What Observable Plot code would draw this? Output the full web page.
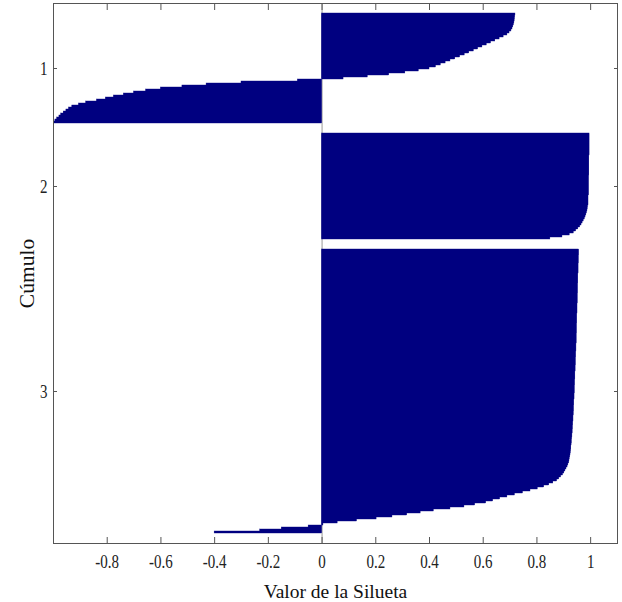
<!DOCTYPE html>
<html>
<head>
<meta charset="utf-8">
<script src="https://cdn.jsdelivr.net/npm/d3@7"></script>
<script src="https://cdn.jsdelivr.net/npm/@observablehq/plot@0.6"></script>
<style>
  html, body { margin: 0; padding: 0; background: #fff; }
  #chart { width: 622px; height: 602px; }
</style>
</head>
<body>
<div id="chart"></div>
<script>
// Silhouette values per cluster (sorted descending)
const clusterLabels = ["1", "2", "3"];

const cluster1 = [
  0.720, 0.719, 0.718, 0.717, 0.716, 0.714, 0.712, 0.709, 0.705, 0.698,
  0.690, 0.676, 0.661, 0.645, 0.629, 0.613, 0.597, 0.581, 0.565, 0.548,
  0.531, 0.514, 0.496, 0.478, 0.460, 0.442, 0.424, 0.400, 0.360, 0.310,
  0.250, 0.170, 0.080,
  -0.09, -0.30, -0.43, -0.52, -0.60, -0.655, -0.70, -0.738, -0.775, -0.805,
  -0.838, -0.878, -0.905, -0.930, -0.942, -0.952, -0.962, -0.971, -0.978, -0.986,
  -0.993, -0.999
];

const cluster2 = [
  0.996, 0.996, 0.996, 0.996, 0.996, 0.996, 0.996, 0.996, 0.996, 0.996, 0.996,
  0.995, 0.995, 0.995, 0.995, 0.995, 0.995, 0.995, 0.995, 0.995, 0.995,
  0.994, 0.994, 0.994, 0.994, 0.994, 0.994, 0.994, 0.994, 0.994, 0.994,
  0.992, 0.992, 0.992, 0.992, 0.992,
  0.990, 0.989, 0.988, 0.986, 0.984, 0.981, 0.978, 0.974, 0.970, 0.966,
  0.961, 0.954, 0.946, 0.937, 0.922, 0.895, 0.850
];

const cluster3 = [
  0.957, 0.957, 0.957, 0.956, 0.956, 0.956, 0.956, 0.955, 0.955, 0.955,
  0.955, 0.955, 0.954, 0.954, 0.954, 0.954, 0.954, 0.953, 0.953, 0.953, 0.953,
  0.953, 0.952, 0.952, 0.952, 0.952, 0.952, 0.951, 0.951, 0.951, 0.951,
  0.951, 0.950, 0.950, 0.950, 0.950, 0.950, 0.949, 0.949, 0.949, 0.949,
  0.949, 0.948, 0.948, 0.948, 0.948,
  0.948, 0.947, 0.947, 0.947, 0.947, 0.946, 0.946, 0.946, 0.945, 0.945,
  0.945, 0.945, 0.944, 0.944, 0.944, 0.943, 0.943, 0.943, 0.943, 0.942,
  0.942, 0.942, 0.941, 0.941, 0.941,
  0.941, 0.940, 0.940, 0.940, 0.939, 0.939, 0.939, 0.938, 0.938, 0.938,
  0.937, 0.937, 0.936, 0.936, 0.936, 0.935, 0.935, 0.934, 0.934, 0.933,
  0.933, 0.932, 0.932, 0.931, 0.930, 0.930, 0.929, 0.928, 0.928, 0.927,
  0.926, 0.925, 0.924,
  0.922, 0.921, 0.920,
  0.917, 0.914, 0.910, 0.906, 0.902, 0.897, 0.890, 0.883, 0.875, 0.861,
  0.846, 0.827, 0.803, 0.776, 0.748, 0.718, 0.690, 0.663, 0.637, 0.611,
  0.570, 0.530, 0.478, 0.416, 0.367, 0.317, 0.262, 0.203, 0.130, 0.058,
  0.005, -0.05, -0.15, -0.23, -0.40
];

const xTicks = [-0.8, -0.6, -0.4, -0.2, 0, 0.2, 0.4, 0.6, 0.8, 1];
const xTickLabels = ["-0.8", "-0.6", "-0.4", "-0.2", "0", "0.2", "0.4", "0.6", "0.8", "1"];
const xLabel = "Valor de la Silueta";
const yLabel = "Cúmulo";

// Build bar table: one bar per point, clusters separated by a gap
const GAP = 5;
const clusters = [cluster1, cluster2, cluster3];
const rows = [];
const centers = [];
let pos = GAP;
clusters.forEach((vals, k) => {
  vals.forEach((v, i) => rows.push({cluster: clusterLabels[k], value: v, y1: pos + i, y2: pos + i + 1}));
  centers.push(pos + vals.length / 2);
  pos += vals.length + GAP;
});
const total = pos;

const navy = "#000080";
const axisColor = "#555";
const textColor = "#222";

const chart = Plot.plot({
  width: 622,
  height: 602,
  marginTop: 3,
  marginLeft: 53,
  marginRight: 5,
  marginBottom: 59,
  style: {fontFamily: "'Liberation Serif', 'Times New Roman', serif", fontSize: "15px", color: textColor, background: "#fff"},
  x: {domain: [-1, 1.1]},
  y: {domain: [0, total], reverse: true},
  marks: [
    Plot.ruleX([0], {stroke: "#999", strokeWidth: 1}),
    Plot.rect(rows, {x1: 0, x2: "value", y1: "y1", y2: "y2", fill: navy, stroke: navy, strokeWidth: 0.4}),
    Plot.frame({stroke: axisColor}),
    // tick labels
    Plot.axisX({ticks: xTicks, tickSize: 0, tickPadding: 11, fontSize: 15, tickFormat: d => xTickLabels[xTicks.indexOf(d)], label: null}),
    Plot.axisY({ticks: centers, tickSize: 0, tickPadding: 6, fontSize: 15, tickFormat: d => clusterLabels[centers.indexOf(d)], label: null}),
    // inward tick marks on all four sides
    Plot.axisX({ticks: xTicks, anchor: "bottom", tickSize: 6, dy: -6, stroke: axisColor, tickFormat: () => "", label: null}),
    Plot.axisX({ticks: xTicks, anchor: "top", tickSize: 6, dy: 6, stroke: axisColor, tickFormat: () => "", label: null}),
    Plot.axisY({ticks: centers, anchor: "left", tickSize: 4, dx: 4, stroke: axisColor, tickFormat: () => "", label: null}),
    Plot.axisY({ticks: centers, anchor: "right", tickSize: 4, dx: -4, stroke: axisColor, tickFormat: () => "", label: null}),
    // axis titles
    Plot.text([xLabel], {frameAnchor: "bottom", textAnchor: "middle", lineAnchor: "bottom", dy: 54, fontSize: 19.5, fill: "#111", ariaLabel: "x-title"}),
    Plot.text([yLabel], {frameAnchor: "left", textAnchor: "middle", lineAnchor: "bottom", rotate: -90, dx: -19.5, fontSize: 21.5, fill: "#111", ariaLabel: "y-title"})
  ]
});

// The reference glyphs are taller than wide: stretch the texts a little
function stretch(t, sx, sy) {
  let tr = t.getAttribute("transform") || "";
  const num = /^-?[\d.]+$/;
  const x = t.getAttribute("x"), y = t.getAttribute("y");
  if ((x !== null && num.test(x)) || (y !== null && num.test(y))) {
    tr += ` translate(${x && num.test(x) ? x : 0},${y && num.test(y) ? y : 0})`;
    if (x && num.test(x)) t.removeAttribute("x");
    if (y && num.test(y)) t.removeAttribute("y");
  }
  t.setAttribute("transform", (tr + ` scale(${sx},${sy})`).trim());
}
chart.querySelectorAll("[aria-label='x-axis tick label'] text, [aria-label='y-axis tick label'] text").forEach(t => stretch(t, 1, 1.25));
chart.querySelectorAll("[aria-label='x-title'] text").forEach(t => stretch(t, 1, 1.18));
chart.querySelectorAll("[aria-label='y-title'] text").forEach(t => stretch(t, 1.17, 1));

document.getElementById("chart").appendChild(chart);
</script>
</body>
</html>
